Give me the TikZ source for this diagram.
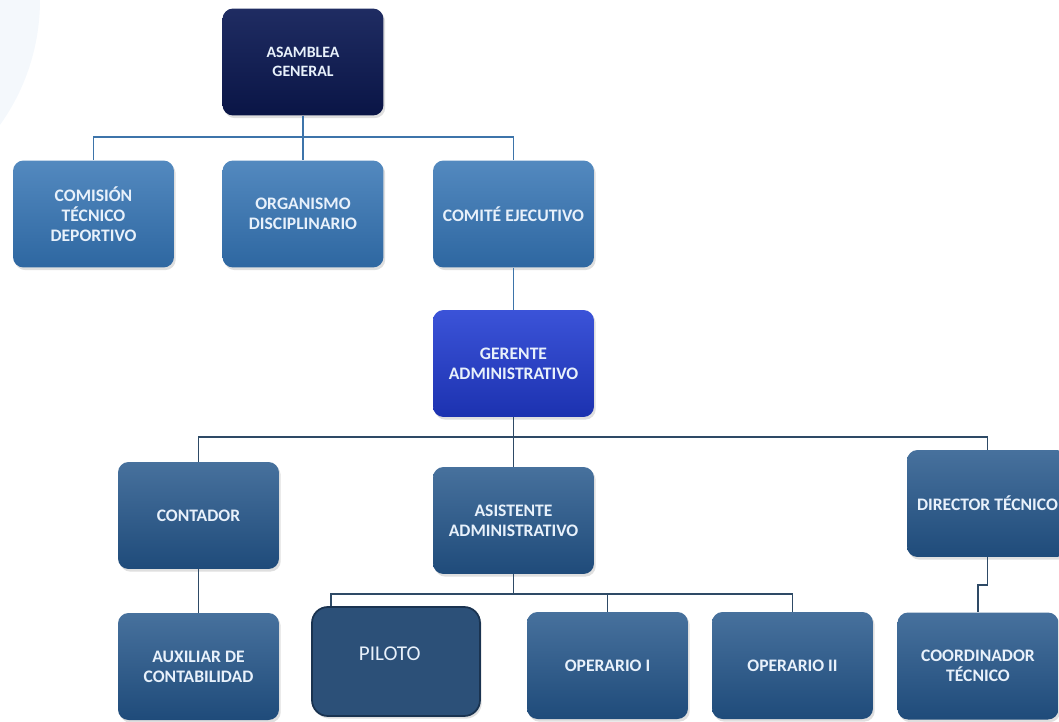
\documentclass[tikz,border=0pt]{standalone}
\usepackage{fontspec}
\setmainfont{Carlito}
\usetikzlibrary{shadows}

% Colores
\definecolor{fondo}{HTML}{F4F8FC}
\definecolor{asamblea1}{HTML}{1F2C62}
\definecolor{asamblea2}{HTML}{0A1546}
\definecolor{claro1}{HTML}{5389BF}
\definecolor{claro2}{HTML}{2E67A1}
\definecolor{oscuro1}{HTML}{47719D}
\definecolor{oscuro2}{HTML}{1F4B7A}
\definecolor{gerente1}{HTML}{3B53D8}
\definecolor{gerente2}{HTML}{1C32B0}
\definecolor{piloto}{HTML}{2C5078}
\definecolor{borde}{HTML}{1A3350}
\definecolor{lineaazul}{HTML}{3D74AA}
\definecolor{lineagris}{HTML}{2E4A66}
\definecolor{letra}{HTML}{E8F1FB}

\tikzset{
  caja/.style={rounded corners=6pt, minimum width=3.22cm, minimum height=2.14cm,
    inner sep=2pt, align=center, text=letra,
    font=\fontsize{10}{11.5}\selectfont\bfseries,
    drop shadow={opacity=0.25, shadow xshift=1pt, shadow yshift=-1.5pt}},
  cajaasamblea/.style={caja, top color=asamblea1, bottom color=asamblea2,
    font=\fontsize{9}{11}\selectfont\bfseries},
  cajaclara/.style={caja, top color=claro1, bottom color=claro2},
  cajaoscura/.style={caja, top color=oscuro1, bottom color=oscuro2},
  cajagerente/.style={caja, top color=gerente1, bottom color=gerente2},
  cajapiloto/.style={caja, fill=piloto, draw=borde, line width=1pt,
    rounded corners=9pt, minimum width=3.36cm, minimum height=2.18cm,
    font=\fontsize{12}{14}\selectfont},
  lineaclara/.style={draw=lineaazul, line width=1.1pt},
  lineaoscura/.style={draw=lineagris, line width=1.1pt}
}

\begin{document}
\begin{tikzpicture}[x=0.02cm, y=-0.02cm]

  % Marco y fondo
  \useasboundingbox (0,0) rectangle (1059,721);
  \fill[fondo] (-175,0) circle (215);

  % Nivel superior
  \node[cajaasamblea] (asamblea) at (303,62) {ASAMBLEA\\GENERAL};

  % Segundo nivel
  \node[cajaclara] (comision) at (93.5,214) {COMISIÓN\\TÉCNICO\\DEPORTIVO};
  \node[cajaclara] (organismo) at (303,214) {ORGANISMO\\DISCIPLINARIO};
  \node[cajaclara] (comite) at (513.5,214) {COMITÉ EJECUTIVO};

  % Gerencia
  \node[cajagerente] (gerente) at (513.5,363.5) {GERENTE\\ADMINISTRATIVO};

  % Tercer nivel
  \node[cajaoscura] (contador) at (198.5,515.5) {CONTADOR};
  \node[cajaoscura] (asistente) at (513.5,520.5) {ASISTENTE\\ADMINISTRATIVO};
  \node[cajaoscura] (director) at (987.5,503.5) {DIRECTOR TÉCNICO};

  % Cuarto nivel
  \node[cajaoscura] (auxiliar) at (198.5,666.5) {AUXILIAR DE\\CONTABILIDAD};
  \node[cajapiloto] (piloto) at (396,661.5) {\raisebox{0.16cm}[\height]{PILOTO}\hspace*{0.25cm}};
  \node[cajaoscura] (operario1) at (607.5,665.5) {OPERARIO I};
  \node[cajaoscura] (operario2) at (792.5,665.5) {OPERARIO II};
  \node[cajaoscura] (coordinador) at (978,666) {COORDINADOR\\TÉCNICO};

  % Barras horizontales
  \coordinate (barra1) at (0,137);
  \coordinate (barra2) at (0,437);
  \coordinate (barra3) at (0,594);
  \coordinate (entrada) at ([xshift=0.4cm]piloto.north west);

  % Conectores
  \foreach \n in {comision,organismo,comite}
    \draw[lineaclara] (asamblea.south) |- (\n.north |- barra1) -- (\n.north);
  \draw[lineaclara] (comite.south) -- (gerente.north);
  \foreach \n in {contador,asistente,director}
    \draw[lineaoscura] (gerente.south) |- (\n.north |- barra2) -- (\n.north);
  \draw[lineaoscura] (contador.south) -- (auxiliar.north);
  \foreach \n in {entrada,operario1.north,operario2.north}
    \draw[lineaoscura] (asistente.south) |- (\n |- barra3) -- (\n);
  \draw[lineaoscura] (director.south) -- ++(0,28) -| (coordinador.north);

\end{tikzpicture}
\end{document}
